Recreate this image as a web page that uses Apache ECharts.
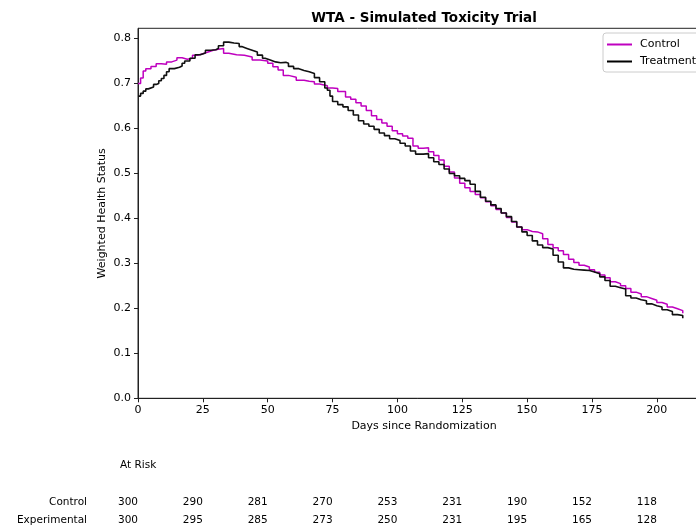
<!DOCTYPE html>
<html>
<head>
<meta charset="utf-8">
<script src="https://cdn.jsdelivr.net/npm/echarts@6/dist/echarts.min.js"></script>
<style>
  html, body { margin: 0; padding: 0; background: #fff; }
  #chart { width: 696px; height: 531px; }
</style>
</head>
<body>
<div id="chart"></div>
<script>
// curves (days, weighted health status)
const controlDays = [0,1,2,3,5,7,9,11,13,15,17,19,21,23,25,27,29,31,33,35,38,41,44,47,50,52,54,56,58,61,64,66,68,70,73,75,77,80,82,84,86,88,90,92,94,96,98,100,102,104,106,108,110,112,114,116,118,120,122,124,126,128,130,132,134,136,138,140,142,144,146,148,150,152,154,156,158,160,162,164,166,168,170,172,174,176,178,180,182,184,186,188,190,192,194,196,198,200,202,204,206,208,210]
const controlVals = [0.700,0.712,0.728,0.733,0.738,0.744,0.743,0.748,0.752,0.757,0.754,0.756,0.763,0.766,0.770,0.774,0.776,0.778,0.767,0.764,0.763,0.759,0.752,0.750,0.745,0.737,0.730,0.718,0.714,0.707,0.705,0.704,0.699,0.695,0.690,0.689,0.682,0.670,0.665,0.657,0.650,0.640,0.628,0.620,0.612,0.605,0.595,0.588,0.583,0.578,0.561,0.556,0.557,0.548,0.540,0.530,0.516,0.503,0.490,0.478,0.468,0.460,0.453,0.446,0.437,0.428,0.420,0.412,0.402,0.392,0.381,0.375,0.371,0.370,0.366,0.355,0.342,0.335,0.328,0.320,0.309,0.302,0.296,0.292,0.286,0.280,0.274,0.268,0.259,0.255,0.250,0.244,0.236,0.232,0.226,0.222,0.218,0.213,0.209,0.203,0.199,0.195,0.189]

const treatDays = [0,1,2,3,4,6,7,8,9,10,11,12,14,16,17,18,20,22,24,26,28,30,31,33,35,37,39,40,42,44,46,48,49,51,53,55,57,58,60,62,64,66,68,70,72,73,74,75,77,79,81,83,85,87,89,91,93,95,97,99,101,103,105,107,110,112,114,116,118,120,122,124,126,128,130,132,134,136,138,140,142,144,146,148,150,152,154,156,158,160,162,164,166,168,170,172,174,176,178,180,182,184,186,188,190,192,194,196,198,200,202,204,206,208,210]
const treatVals = [0.672,0.678,0.683,0.688,0.692,0.698,0.700,0.706,0.711,0.718,0.726,0.733,0.736,0.739,0.745,0.750,0.756,0.764,0.768,0.774,0.775,0.778,0.784,0.792,0.790,0.789,0.782,0.778,0.774,0.770,0.763,0.756,0.752,0.748,0.746,0.747,0.745,0.738,0.733,0.729,0.726,0.722,0.713,0.704,0.690,0.685,0.672,0.660,0.653,0.648,0.640,0.630,0.617,0.610,0.605,0.598,0.590,0.584,0.577,0.573,0.567,0.561,0.550,0.543,0.544,0.535,0.526,0.520,0.510,0.500,0.495,0.489,0.484,0.476,0.460,0.447,0.438,0.430,0.422,0.412,0.404,0.393,0.381,0.370,0.362,0.350,0.341,0.335,0.332,0.318,0.303,0.290,0.287,0.286,0.285,0.284,0.281,0.277,0.270,0.262,0.249,0.246,0.243,0.228,0.223,0.219,0.217,0.210,0.206,0.203,0.197,0.193,0.186,0.184,0.178]

// ticks
const xTicks = [0, 25, 50, 75, 100, 125, 150, 175, 200]
const yTicks = [0, 0.1, 0.2, 0.3, 0.4, 0.5, 0.6, 0.7, 0.8]

// at-risk table
const riskDays = [0, 25, 50, 75, 100, 125, 150, 175, 200]
const riskGroups = ['Control', 'Experimental']
const riskControl = [300, 290, 281, 270, 253, 231, 190, 152, 118]
const riskExperimental = [300, 295, 285, 273, 250, 231, 195, 165, 128]

const FONT = 'DejaVu Sans'
const TXT = '#000'

var chartDom = document.getElementById('chart');
var myChart = echarts.init(chartDom);

const zip = (a, b) => a.map((v, i) => [v, b[i]])

const riskData = []
riskDays.forEach((d, i) => {
  riskData.push([d, 'Control', riskControl[i]])
  riskData.push([d, 'Experimental', riskExperimental[i]])
})

var option = {
  animation: false,
  textStyle: { fontFamily: FONT },
  title: {
    text: 'WTA - Simulated Toxicity Trial',
    left: 419,
    top: 6,
    textAlign: 'center',
    textStyle: { fontFamily: FONT, fontSize: 13.5, fontWeight: 'bold', color: '#000' }
  },
  legend: {
    data: ['Control', 'Treatment'],
    orient: 'vertical',
    left: 603,
    top: 33,
    padding: [5, 6, 4, 4],
    icon: 'rect',
    itemGap: 4,
    itemWidth: 25,
    itemHeight: 2,
    backgroundColor: '#fff',
    borderColor: '#ccc',
    borderWidth: 1,
    borderRadius: 3,
    textStyle: { fontFamily: FONT, fontSize: 11, color: TXT, padding: [0, 0, 0, 3], lineHeight: 13 }
  },
  grid: [
    { left: 138, top: 28.3, width: 572, height: 370, show: true, borderColor: '#222', borderWidth: 1, outerBoundsMode: 'none', containLabel: false },
    { left: 138, top: 494, width: 572, height: 35, show: false, outerBoundsMode: 'none', containLabel: false }
  ],
  xAxis: [
    {
      type: 'value', gridIndex: 0, min: 0, max: 220.5,
      name: 'Days since Randomization', nameLocation: 'middle', nameGap: 22,
      nameMoveOverlap: false,
      nameTextStyle: { fontFamily: FONT, fontSize: 11, color: TXT },
      splitLine: { show: false },
      axisLine: { show: true, lineStyle: { color: '#222' } },
      axisTick: { show: true, length: 4, customValues: xTicks, lineStyle: { color: '#222' } },
      axisLabel: { customValues: xTicks, margin: 6, fontFamily: FONT, fontSize: 11, color: TXT }
    },
    {
      type: 'value', gridIndex: 1, min: 0, max: 220.5, show: false
    }
  ],
  yAxis: [
    {
      type: 'value', gridIndex: 0, min: 0, max: 0.8227,
      name: 'Weighted Health Status', nameLocation: 'middle', nameGap: 30,
      nameMoveOverlap: false,
      nameTextStyle: { fontFamily: FONT, fontSize: 11, color: TXT },
      splitLine: { show: false },
      axisLine: { show: true, lineStyle: { color: '#222' } },
      axisTick: { show: true, length: 4, customValues: yTicks, lineStyle: { color: '#222' } },
      axisLabel: { customValues: yTicks, margin: 7, fontFamily: FONT, fontSize: 11, color: TXT,
        formatter: v => v.toFixed(1) }
    },
    {
      type: 'category', gridIndex: 1, data: riskGroups, inverse: true,
      axisLine: { show: false }, axisTick: { show: false },
      axisLabel: { margin: 51, fontFamily: FONT, fontSize: 10.5, color: TXT }
    }
  ],
  graphic: [
    { type: 'text', left: 120, top: 460, style: { text: 'At Risk', font: '10.5px "DejaVu Sans"', fill: TXT } }
  ],
  series: [
    {
      name: 'Control', type: 'line', step: 'end', symbol: 'none',
      xAxisIndex: 0, yAxisIndex: 0,
      color: '#bf00bf', lineStyle: { width: 1.5, color: '#bf00bf' },
      data: zip(controlDays, controlVals)
    },
    {
      name: 'Treatment', type: 'line', step: 'end', symbol: 'none',
      xAxisIndex: 0, yAxisIndex: 0,
      color: '#000', lineStyle: { width: 1.6, color: '#111' },
      data: zip(treatDays, treatVals)
    },
    {
      name: 'atrisk', type: 'scatter', xAxisIndex: 1, yAxisIndex: 1,
      symbolSize: 1, itemStyle: { color: '#fff', opacity: 1 },
      silent: true,
      label: {
        show: true, position: 'inside', offset: [-10, 0],
        formatter: p => String(p.value[2]),
        fontFamily: FONT, fontSize: 10.5, color: TXT, opacity: 1,
        textBorderWidth: 0
      },
      data: riskData
    }
  ]
};

option && myChart.setOption(option);
</script>
</body>
</html>
